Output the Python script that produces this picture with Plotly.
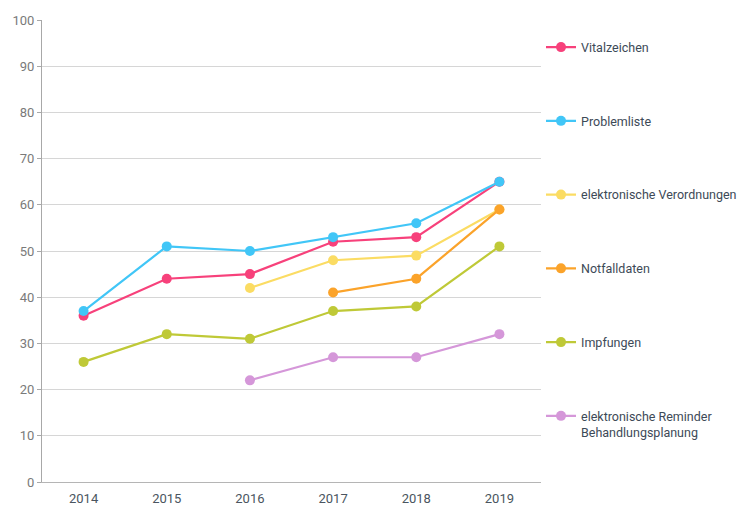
import plotly.graph_objects as go

years = ["2014", "2015", "2016", "2017", "2018", "2019"]

vitalzeichen = [36, 44, 45, 52, 53, 65]
problemliste = [37, 51, 50, 53, 56, 65]
verordnungen = [None, None, 42, 48, 49, 59]
notfalldaten = [None, None, None, 41, 44, 59]
impfungen = [26, 32, 31, 37, 38, 51]
reminder = [None, None, 22, 27, 27, 32]

series = [
    ("Vitalzeichen", vitalzeichen, "#f7417b"),
    ("Problemliste", problemliste, "#41c6f7"),
    ("elektronische Verordnungen", verordnungen, "#fbdc63"),
    ("Notfalldaten", notfalldaten, "#fba32a"),
    ("Impfungen", impfungen, "#bfc937"),
    ("elektronische Reminder<br>Behandlungsplanung", reminder, "#d597d9"),
]

fig = go.Figure()
for i, (name, vals, col) in enumerate(series):
    fig.add_trace(go.Scatter(
        x=years, y=vals, name=name, mode="lines+markers",
        line=dict(color=col, width=2.2),
        marker=dict(color=col, size=10),
        legendgroup=str(i),
        connectgaps=False,
    ))

# page body has an 8px margin; margins compensate for it
fig.update_layout(
    width=741, height=499,
    margin=dict(l=34, r=208, t=12, b=25, autoexpand=False),
    paper_bgcolor="white", plot_bgcolor="white",
    font=dict(family="Roboto, sans-serif", size=13, color="#3d4a57"),
    showlegend=True,
    legend=dict(
        x=1.0, y=0.973, xanchor="left", yanchor="top",
        tracegroupgap=54.5, valign="top",
        font=dict(size=12.5, color="#3d4a57"),
        bgcolor="rgba(0,0,0,0)",
    ),
    xaxis=dict(
        type="category", range=[-0.5, 5.5], automargin=False,
        showline=True, linecolor="#b5b5b5", linewidth=1,
        showgrid=False, ticks="", ticklen=0, ticklabelstandoff=4,
        tickfont=dict(size=13, color="#4a5560"),
        fixedrange=True,
    ),
    yaxis=dict(
        range=[0, 100], dtick=10, automargin=False,
        showline=True, linecolor="#a8a8a8", linewidth=1,
        showgrid=True, gridcolor="#d6d6d6", gridwidth=1,
        ticks="outside", ticklen=4, tickcolor="#a8a8a8",
        tickfont=dict(size=13, color="#7a7a7a"),
        zeroline=False,
    ),
)

fig.write_html("out.html")
